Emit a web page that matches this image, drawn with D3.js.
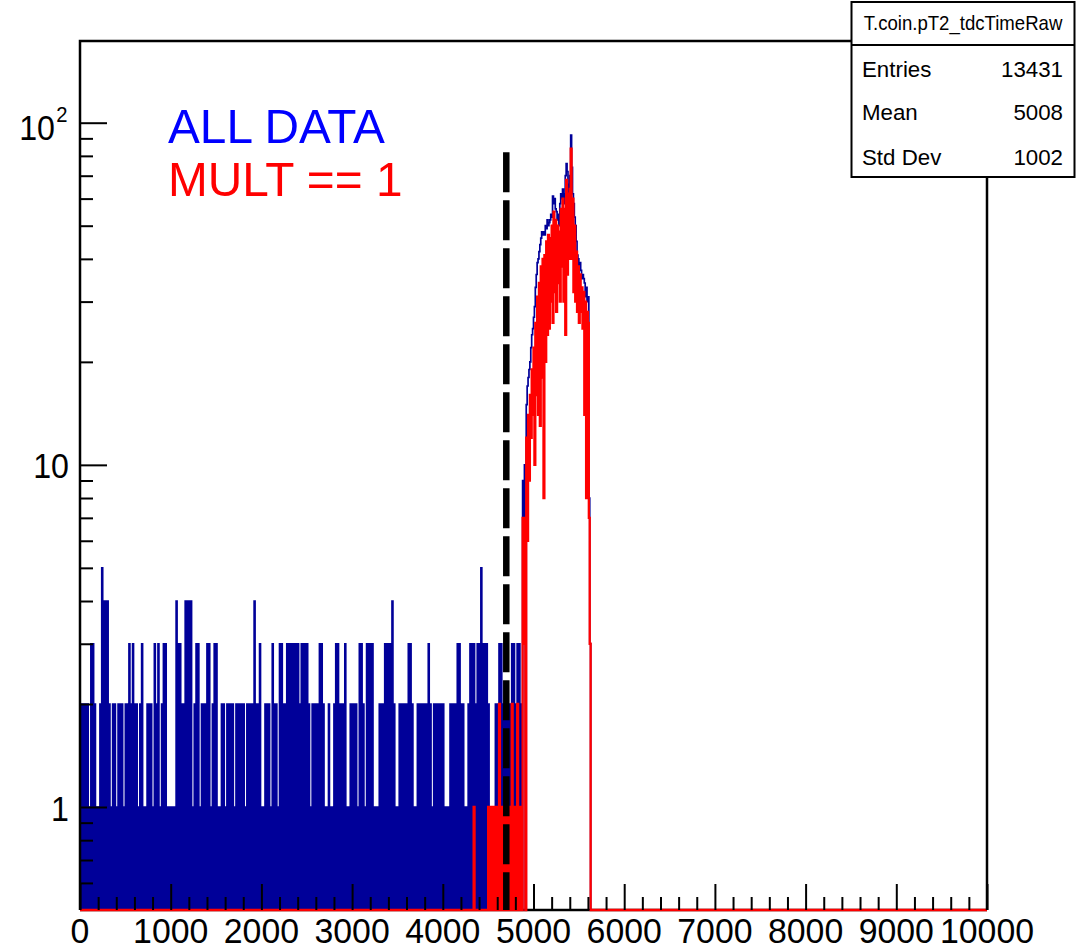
<!DOCTYPE html>
<html><head><meta charset="utf-8">
<script src="https://cdn.jsdelivr.net/npm/d3@7"></script>
<style>body{margin:0;background:#fff}svg{display:block}</style>
</head><body><svg id="c" width="1077" height="951"></svg>
<script>
// ---- data ----
const binWidth = 10;
const nBins = 1000;
// ALL DATA counts, bins 0..487 (one digit per 10-unit bin)
const allDataLow = [
"2020202020","1030302010","1020504040","4020102020","1020202010",
"2020302030","2020102030","1010202020","1030203010","2030301010",
"1010104030","3020204040","4040102030","3010202020","3030102030",
"3010102020","1020202020","1020202020","2010202020","2040202030",
"1010202020","1030202010","3030202030","3030303030","3020303030",
"3020102020","2020303020","1010201010","2030302020","2030101020",
"2020201030","3020103030","3030101010","2020203030","3030402010",
"1020202020","2030302010","1020202020","2020302010","2020202020",
"2010101020","2020203030","2020101020","3030302030","3050303030",
"2010101020","2030302020","2020203030","20303020"].join("");
const allDataLowStart = 0;
// ALL DATA counts, bins 488..562 (the peak)
const allDataPeak = [9,4,10,0,15,17,18,19,20,22,24,25,27,29,33,36,39,40,42,44,
46,48,47,48,47,50,49,52,50,51,52,54,53,61,58,60,56,55,52,54,50,58,62,60,64,
58,62,70,76,72,66,62,70,92,74,62,58,53,50,45,41,40,38,39,37,35,36,35,34,31,
33,30,31,8,3];
const peakStart = 488;
// MULT == 1 counts, bins 430..487
const mult1Low = ["0000100000","0000000000","1010101010","1020101010",
"1010102010","10201010"].join("");
const mult1LowStart = 430;
// MULT == 1 counts, bins 488..562
const mult1Peak = [7,3,7,0,12,6,14,9,16,12,19,14,22,10,26,16,31,14,34,13,
38,18,40,8,41,20,45,24,47,25,46,30,50,26,55,32,52,28,50,34,48,30,56,38,60,
30,56,24,68,36,62,40,64,84,40,60,32,50,30,42,28,38,26,36,28,33,25,32,14,30,
8,28,26,7,3];

const xMajorTicks = [0,1000,2000,3000,4000,5000,6000,7000,8000,9000,10000];
const xMinorTicks = d3.range(0, 10001, 200).filter(v => v % 1000 !== 0);
const yMajorTicks = [1, 10, 100];
const yMinorTicks = [0.6,0.7,0.8,0.9,2,3,4,5,6,7,8,9,20,30,40,50,60,70,80,90];
const yDomain = [0.5, 173.3];
const cutValue = 4700, cutHeight = 82;
const legendLabels = ["ALL DATA", "MULT == 1"];
const legendColors = ["#0000ff", "#ff0000"];
const statsTitle = "T.coin.pT2_tdcTimeRaw";
const statsNames = ["Entries", "Mean", "Std Dev"];
const statsValues = ["13431", "5008", "1002"];

// ---- build ----
function buildCounts(lowStr, lowStart, peak, pStart) {
  const a = new Array(nBins).fill(0);
  for (let i = 0; i < lowStr.length; i++) a[lowStart + i] = +lowStr[i];
  peak.forEach((v, k) => a[pStart + k] = v);
  return a;
}
const allData = buildCounts(allDataLow, allDataLowStart, allDataPeak, peakStart);
const mult1 = buildCounts(mult1Low, mult1LowStart, mult1Peak, peakStart);

const L = 80, R = 987, T = 41, B = 910;
const x = d3.scaleLinear().domain([0, 10000]).range([L, R]);
const y = d3.scaleLog().domain(yDomain).range([B, T]);
const FONT = "'Liberation Sans', Arial, Helvetica, sans-serif";

const svg = d3.select("#c");
svg.append("defs").append("clipPath").attr("id","clip")
  .append("rect").attr("x", L).attr("y", T).attr("width", R - L).attr("height", B - T + 2);

// bottom frame line
svg.append("line").attr("x1", L).attr("x2", R).attr("y1", B).attr("y2", B)
  .attr("stroke", "#000").attr("stroke-width", 2.5);

function histPath(counts) {
  const pts = counts.map((v, i) => [x(i * binWidth), v > 0 ? y(v) : B]);
  pts.push([x(nBins * binWidth), counts[nBins - 1] > 0 ? y(counts[nBins - 1]) : B]);
  return d3.line().curve(d3.curveStepAfter)(pts);
}
const hg = svg.append("g").attr("clip-path", "url(#clip)");
hg.append("path").attr("d", histPath(allData)).attr("fill", "none")
  .attr("stroke", "#000099").attr("stroke-width", 1.7);
hg.append("path").attr("d", histPath(mult1)).attr("fill", "none")
  .attr("stroke", "#ff0000").attr("stroke-width", 2.3);

// frame left/top/right
svg.append("path").attr("d", `M${L},${B}V${T}H${R}V${B}`).attr("fill", "none")
  .attr("stroke", "#000").attr("stroke-width", 2.5);

// ticks via d3 axes (inside the frame)
function styleAxis(g) { g.select(".domain").remove(); g.selectAll("line").attr("stroke", "#000").attr("stroke-width", 2); g.selectAll("text").remove(); }
svg.append("g").attr("transform", `translate(0,${B})`)
  .call(d3.axisBottom(x).tickValues(xMajorTicks).tickSize(-26).tickFormat("")).call(styleAxis);
svg.append("g").attr("transform", `translate(0,${B})`)
  .call(d3.axisBottom(x).tickValues(xMinorTicks).tickSize(-13).tickFormat("")).call(styleAxis);
svg.append("g").attr("transform", `translate(${L},0)`)
  .call(d3.axisLeft(y).tickValues(yMajorTicks).tickSize(-27).tickFormat("")).call(styleAxis);
svg.append("g").attr("transform", `translate(${L},0)`)
  .call(d3.axisLeft(y).tickValues(yMinorTicks).tickSize(-13).tickFormat("")).call(styleAxis);

function txt(px, py, s, size, anchor, color, sx) {
  return svg.append("text").attr("transform", `translate(${px},${py}) scale(${sx || 1},1)`)
    .attr("text-anchor", anchor).attr("font-family", FONT).attr("font-size", size)
    .attr("fill", color || "#000").text(s);
}
// x labels
xMajorTicks.forEach(v => txt(x(v), 943, String(v), 36, "middle", "#000", 0.94));
// y labels
txt(69, y(1) + 14, "1", 35, "end", "#000", 0.92);
txt(69, y(10) + 13, "10", 35, "end", "#000", 0.92);
txt(55, y(100) + 17, "10", 35, "end", "#000", 0.92);
txt(67.5, y(100) - 1, "2", 22, "end", "#000", 0.92);

// cut line
svg.append("line").attr("x1", x(cutValue)).attr("x2", x(cutValue))
  .attr("y1", y(cutHeight)).attr("y2", B)
  .attr("stroke", "#000").attr("stroke-width", 6.5).attr("stroke-dasharray", "40,8");

// legend text
legendLabels.forEach((s, i) => txt(168, 143 + i * 53, s, 49, "start", legendColors[i], 0.975));

// stats box
const bx = 851.5, by = 2, bw = 223, bh = 175;
svg.append("rect").attr("x", bx).attr("y", by).attr("width", bw).attr("height", bh)
  .attr("fill", "#fff").attr("stroke", "#000").attr("stroke-width", 2);
svg.append("line").attr("x1", bx).attr("x2", bx + bw).attr("y1", 45).attr("y2", 45)
  .attr("stroke", "#000").attr("stroke-width", 2);
txt(bx + bw / 2, 30, statsTitle, 20, "middle", "#000", 0.93);
statsNames.forEach((s, i) => {
  const base = [77, 120, 164.5][i];
  txt(862, base, s, 23, "start", "#000", 0.97);
  txt(1063, base, statsValues[i], 23, "end", "#000", 0.97);
});
</script></body></html>
